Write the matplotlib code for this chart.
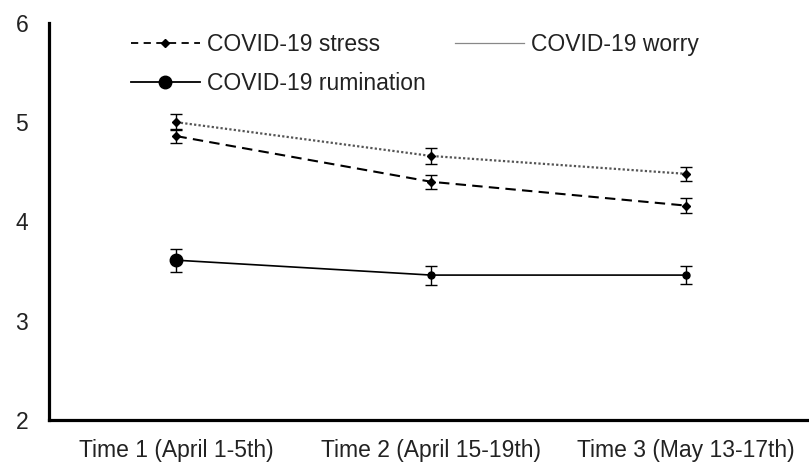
import matplotlib
matplotlib.use("Agg")
import matplotlib.pyplot as plt
from matplotlib.lines import Line2D
import numpy as np

plt.rcParams['font.family'] = ['Liberation Sans', 'DejaVu Sans']

# mean scores across the three survey waves
times = ["Time 1 (April 1-5th)", "Time 2 (April 15-19th)", "Time 3 (May 13-17th)"]
stress = [4.86, 4.40, 4.16]
stress_err = [0.07, 0.07, 0.075]
worry = [5.00, 4.66, 4.48]
worry_err = [0.08, 0.08, 0.07]
rumination = [3.61, 3.46, 3.46]
rumination_err = [0.115, 0.095, 0.09]
rumination_size = [9, 5, 5]

x = np.arange(len(times)) + 0.5

fig = plt.figure(figsize=(8.09, 4.66), dpi=100)
ax = fig.add_axes([0.0606, 0.0987, 0.945, 0.852])

ax.errorbar(x, worry, yerr=worry_err, color='#555555', ls=(0, (1, 1)), lw=1.6,
            marker='D', ms=4, mfc='black', mec='black',
            ecolor='black', elinewidth=1, capsize=4.5, capthick=1)
ax.errorbar(x, stress, yerr=stress_err, color='black', ls=(0, (5, 3)), lw=1.5,
            marker='D', ms=4.5, ecolor='black', elinewidth=1, capsize=4.5, capthick=1)
ax.errorbar(x, rumination, yerr=rumination_err, color='black', ls='-', lw=1.2,
            ecolor='black', elinewidth=1, capsize=4.5, capthick=1)
for xi, yi, s in zip(x, rumination, rumination_size):
    ax.plot(xi, yi, marker='o', ms=s, color='black')

ax.set_xlim(0, 3)
ax.set_ylim(2, 6)
ax.set_yticks([2, 3, 4, 5, 6])
ax.set_xticks(x)
ax.set_xticklabels(times)
ax.tick_params(axis='both', length=0, labelsize=16.5, colors='#222222')
ax.tick_params(axis='y', pad=15)
ax.tick_params(axis='x', pad=14)

for side in ['top', 'right']:
    ax.spines[side].set_visible(False)
for side in ['left', 'bottom']:
    ax.spines[side].set_linewidth(2.3)
    ax.spines[side].set_capstyle('projecting')

handles = [
    Line2D([], [], color='black', ls=(0, (4, 3)), lw=1.3, marker='D', ms=4),
    Line2D([], [], color='black', ls='-', lw=1.3, marker='o', ms=9),
    Line2D([], [], color='#888888', ls='-', lw=0.9),
]
labels = ["COVID-19 stress", "COVID-19 rumination", "COVID-19 worry"]
fig.legend(handles, labels, ncol=2, frameon=False, fontsize=16.5,
           labelcolor='#222222', loc='upper left',
           bbox_to_anchor=(0.162, 0.93), borderpad=0, borderaxespad=0,
           handlelength=3.0, handletextpad=0.3, columnspacing=1.3,
           labelspacing=0.72)

fig.savefig("out.png", dpi=100)
